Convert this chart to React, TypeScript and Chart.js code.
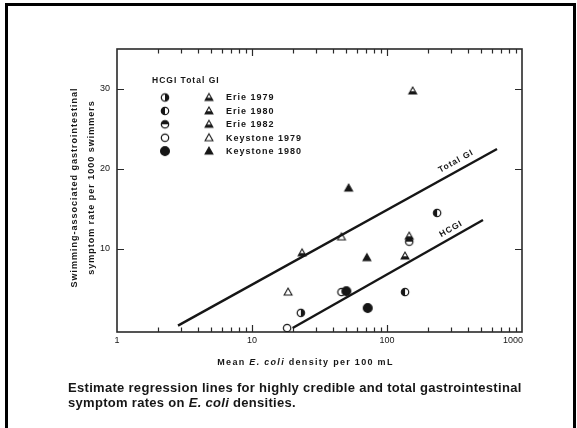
import React, { useEffect, useRef } from 'react';
import { Chart, registerables } from 'chart.js';
Chart.register(...registerables);

// ---- axis ticks ----
const xTickValues = [1, 10, 100, 1000];
const xTickLabels = ['1', '10', '100', '1000'];
const xMinorMultipliers = [2, 3, 4, 5, 6, 7, 8, 9];
const yTickValues = [10, 20, 30];
const yTickLabels = ['10', '20', '30'];

// ---- series names ----
const seriesNames = ['Erie 1979', 'Erie 1980', 'Erie 1982', 'Keystone 1979', 'Keystone 1980'];

// ---- HCGI rates (circles) ----
const hcgiErie1979 = [{ x: 23, y: 2.0 }];
const hcgiErie1980 = [{ x: 235, y: 14.5 }, { x: 136, y: 4.6 }];
const hcgiErie1982 = [{ x: 146, y: 10.9 }];
const hcgiKeystone1979 = [{ x: 18.2, y: 0.1 }, { x: 46, y: 4.6 }];
const hcgiKeystone1980 = [{ x: 50, y: 4.7 }, { x: 72, y: 2.6 }];

// ---- Total GI rates (triangles) ----
const totErie1979 = [{ x: 23.5, y: 9.5 }];
const totErie1980 = [{ x: 155, y: 29.75 }, { x: 136, y: 9.1 }];
const totErie1982 = [{ x: 146, y: 11.6 }];
const totKeystone1979 = [{ x: 18.5, y: 4.6 }, { x: 46, y: 11.5 }];
const totKeystone1980 = [{ x: 52, y: 17.6 }, { x: 71, y: 8.9 }];

// ---- regression lines ----
const totalGiLine = [{ x: 2.83, y: 0.4 }, { x: 653, y: 22.5 }];
const hcgiLine = [{ x: 20, y: 0.1 }, { x: 514, y: 13.6 }];
const lineLabels = ['Total GI', 'HCGI'];
const lineLabelAt = [350, 319];

const circleMarkers = ['cHalfRight', 'cHalfLeft', 'cHalfTop', 'cOpen', 'cFilled'];
const triangleMarkers = ['tHalf', 'tHalf', 'tHalf', 'tOpen', 'tFilled'];

const FONT = "'Liberation Sans', Arial, Helvetica, sans-serif";
const INK = '#161616';

function makeMarker(kind: string): HTMLCanvasElement {
  const c = document.createElement('canvas');
  c.width = 12;
  c.height = 12;
  const g = c.getContext('2d') as CanvasRenderingContext2D;
  g.fillStyle = INK;
  g.strokeStyle = INK;
  g.lineWidth = 1.2;
  const cx = 6, cy = 6;
  if (kind[0] === 'c') {
    const r = kind === 'cFilled' ? 4.4 : 3.7;
    g.beginPath();
    g.arc(cx, cy, r, 0, Math.PI * 2);
    if (kind === 'cFilled') g.fill();
    g.stroke();
    g.beginPath();
    if (kind === 'cHalfRight') g.arc(cx, cy, r, -Math.PI / 2, Math.PI / 2);
    if (kind === 'cHalfLeft') g.arc(cx, cy, r, Math.PI / 2, Math.PI * 1.5);
    if (kind === 'cHalfTop') g.arc(cx, cy, r, Math.PI, Math.PI * 2);
    if (kind.startsWith('cHalf')) {
      g.closePath();
      g.fill();
    }
  } else {
    const h = 3.9;
    const top = cy - h, bot = cy + 3;
    g.beginPath();
    g.moveTo(cx, top);
    g.lineTo(cx - h, bot);
    g.lineTo(cx + h, bot);
    g.closePath();
    if (kind === 'tFilled') g.fill();
    g.lineWidth = 1.1;
    g.stroke();
    if (kind === 'tHalf') {
      const y0 = cy + 0.2;
      const hw = (h * (y0 - top)) / (bot - top);
      g.beginPath();
      g.moveTo(cx - hw, y0);
      g.lineTo(cx + hw, y0);
      g.lineTo(cx + h, bot);
      g.lineTo(cx - h, bot);
      g.closePath();
      g.fill();
    }
  }
  return c;
}

export default function App() {
  const ref = useRef<HTMLCanvasElement | null>(null);

  useEffect(() => {
    const canvas = ref.current;
    if (!canvas) return;
    const markers: Record<string, HTMLCanvasElement> = {};
    [...circleMarkers, ...triangleMarkers].forEach((k) => {
      if (!markers[k]) markers[k] = makeMarker(k);
    });

    const hcgiData = [hcgiErie1979, hcgiErie1980, hcgiErie1982, hcgiKeystone1979, hcgiKeystone1980];
    const totData = [totErie1979, totErie1980, totErie1982, totKeystone1979, totKeystone1980];

    const datasets: any[] = [];
    seriesNames.forEach((name, i) => {
      datasets.push({
        label: 'HCGI ' + name,
        data: hcgiData[i],
        pointStyle: markers[circleMarkers[i]],
        pointRadius: 5,
        order: 0,
      });
      datasets.push({
        label: 'Total GI ' + name,
        data: totData[i],
        pointStyle: markers[triangleMarkers[i]],
        pointRadius: 5,
        order: 0,
      });
    });
    [totalGiLine, hcgiLine].forEach((d, i) => {
      datasets.push({
        label: lineLabels[i],
        data: d,
        showLine: true,
        borderColor: INK,
        borderWidth: 2.4,
        pointRadius: 0,
        order: 5,
      });
    });

    const decor = {
      id: 'decor',
      beforeDatasetsDraw(chart: any) {
        const { ctx, chartArea: a, scales } = chart;
        const x = scales.x, y = scales.y;
        ctx.save();
        ctx.strokeStyle = '#2a2a2a';
        ctx.lineWidth = 1.6;
        ctx.strokeRect(a.left, a.top, a.right - a.left, a.bottom - a.top);
        ctx.lineWidth = 1.2;
        ctx.beginPath();
        xTickValues.forEach((dec, di) => {
          if (di === xTickValues.length - 1) return;
          [1, ...xMinorMultipliers].forEach((m) => {
            const v = dec * m;
            if (v === 1) return;
            const px = Math.round(x.getPixelForValue(v)) + 0.5;
            const len = m === 1 ? 7 : 4.5;
            ctx.moveTo(px, a.bottom);
            ctx.lineTo(px, a.bottom - len);
            ctx.moveTo(px, a.top);
            ctx.lineTo(px, a.top + len);
          });
        });
        yTickValues.forEach((v) => {
          const py = Math.round(y.getPixelForValue(v)) + 0.5;
          ctx.moveTo(a.left, py);
          ctx.lineTo(a.left + 7, py);
          ctx.moveTo(a.right, py);
          ctx.lineTo(a.right - 7, py);
        });
        ctx.stroke();
        ctx.restore();
      },
      afterDraw(chart: any) {
        const { ctx, chartArea: a, scales } = chart;
        const x = scales.x, y = scales.y;
        ctx.save();
        ctx.fillStyle = INK;

        // x tick labels
        ctx.font = `9px ${FONT}`;
        ctx.textBaseline = 'middle';
        xTickValues.forEach((v, i) => {
          const px = x.getPixelForValue(v);
          const last = i === xTickValues.length - 1;
          ctx.textAlign = last ? 'right' : 'center';
          ctx.fillText(xTickLabels[i], last ? px + 1 : px, a.bottom + 9);
        });

        // x title with italic E. coli
        const bold = `bold 9px ${FONT}`;
        const boldIt = `italic bold 9px ${FONT}`;
        (ctx as any).letterSpacing = '1.3px';
        const parts: [string, string][] = [
          ['Mean ', bold],
          ['E. coli', boldIt],
          [' density per 100 mL', bold],
        ];
        let total = 0;
        parts.forEach(([t, f]) => {
          ctx.font = f;
          total += ctx.measureText(t).width;
        });
        let cx = (a.left + a.right) / 2 - 14 - total / 2;
        ctx.textAlign = 'left';
        parts.forEach(([t, f]) => {
          ctx.font = f;
          ctx.fillText(t, cx, a.bottom + 31);
          cx += ctx.measureText(t).width;
        });

        // y title (two lines, rotated)
        (ctx as any).letterSpacing = '1px';
        ctx.save();
        ctx.translate(0, (a.top + a.bottom) / 2 - 3);
        ctx.rotate(-Math.PI / 2);
        ctx.font = bold;
        ctx.textAlign = 'center';
        ctx.fillText('Swimming-associated gastrointestinal', 0, a.left - 42);
        ctx.fillText('symptom rate per 1000 swimmers', 0, a.left - 25);
        ctx.restore();

        // legend
        ctx.font = `bold 8.5px ${FONT}`;
        ctx.textAlign = 'left';
        ctx.fillText('HCGI Total GI', a.left + 35, a.top + 32);
        ctx.font = bold;
        seriesNames.forEach((name, i) => {
          const ry = a.top + 48.5 + i * 13.4;
          const cm = markers[circleMarkers[i]];
          const tm = markers[triangleMarkers[i]];
          ctx.drawImage(cm, a.left + 48 - cm.width / 2, ry - cm.height / 2);
          ctx.drawImage(tm, a.left + 92 - tm.width / 2, ry - tm.height / 2);
          ctx.fillText(name, a.left + 109, ry + 0.5);
        });

        // regression line labels
        ctx.font = `bold 8.5px ${FONT}`;
        [totalGiLine, hcgiLine].forEach((line, i) => {
          const p1x = x.getPixelForValue(line[0].x), p1y = y.getPixelForValue(line[0].y);
          const p2x = x.getPixelForValue(line[1].x), p2y = y.getPixelForValue(line[1].y);
          const ang = Math.atan2(p2y - p1y, p2x - p1x);
          const lx = x.getPixelForValue(lineLabelAt[i]);
          const t = (lx - p1x) / (p2x - p1x);
          const ly = p1y + t * (p2y - p1y);
          ctx.save();
          ctx.translate(lx, ly);
          ctx.rotate(ang);
          ctx.textAlign = 'center';
          ctx.textBaseline = 'middle';
          ctx.fillText(lineLabels[i], 0, i === 0 ? -9 : -8);
          ctx.restore();
        });
        ctx.restore();
      },
    };

    const chart = new Chart(canvas, {
      type: 'scatter',
      data: { datasets },
      options: {
        responsive: false,
        animation: false,
        events: [],
        layout: { padding: { left: 0, top: 49, right: 55, bottom: 0 } },
        plugins: {
          legend: { display: false },
          tooltip: { enabled: false },
          title: { display: false },
        },
        scales: {
          x: {
            type: 'logarithmic',
            min: 1,
            max: 1000,
            afterBuildTicks: (s: any) => {
              s.ticks = xTickValues.map((v) => ({ value: v }));
            },
            afterFit: (s: any) => {
              s.height = 96;
            },
            ticks: { display: false },
            grid: { display: false, drawTicks: false },
            border: { display: false },
          },
          y: {
            type: 'linear',
            min: -0.4,
            max: 35,
            afterBuildTicks: (s: any) => {
              s.ticks = yTickValues.map((v) => ({ value: v }));
            },
            afterFit: (s: any) => {
              s.width = 117;
            },
            ticks: {
              font: { family: FONT, size: 9 },
              color: INK,
              padding: 7,
              callback: (_v: any, i: number) => yTickLabels[i],
            },
            grid: { display: false, drawTicks: false },
            border: { display: false },
          },
        },
      } as any,
      plugins: [decor],
    });
    return () => chart.destroy();
  }, []);

  return (
    <div style={{ position: 'fixed', left: 0, top: 0, width: 577, height: 428, background: '#fff', overflow: 'hidden' }}>
      <canvas ref={ref} width={577} height={428} style={{ position: 'absolute', left: 0, top: 0, display: 'block' }} />
      <div
        style={{
          position: 'absolute',
          left: 5,
          top: 3,
          width: 571,
          height: 425,
          boxSizing: 'border-box',
          border: '3px solid #000',
          borderBottom: 'none',
          pointerEvents: 'none',
        }}
      />
      <div
        style={{
          position: 'absolute',
          left: 68,
          top: 381,
          width: 495,
          font: `bold 13px ${FONT}`,
          lineHeight: '14.5px',
          color: INK,
          letterSpacing: '0.3px',
          whiteSpace: 'nowrap',
        }}
      >
        Estimate regression lines for highly credible and total gastrointestinal
        <br />
        symptom rates on <i>E. coli</i> densities.
      </div>
    </div>
  );
}
